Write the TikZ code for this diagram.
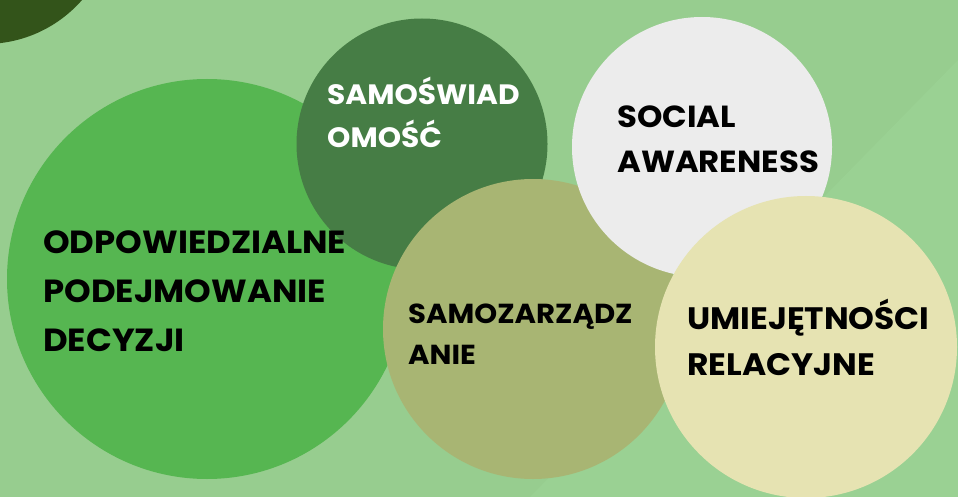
\documentclass[tikz,border=0pt]{standalone}
\usepackage{fontspec}
\setmainfont{Poppins}[FakeStretch=1.06]
\usetikzlibrary{positioning}

\definecolor{meadow}{HTML}{97CD8F}
\definecolor{meadowlight}{HTML}{9AD193}
\definecolor{forest}{HTML}{33541A}
\definecolor{leaf}{HTML}{56B651}
\definecolor{moss}{HTML}{467D45}
\definecolor{fog}{HTML}{ECECEC}
\definecolor{olive}{HTML}{A8B573}
\definecolor{cream}{HTML}{E6E3B2}

\begin{document}
\begin{tikzpicture}[
         x=1pt, y=-1pt,
         bubble/.style={circle, inner sep=0pt, minimum size=#1},
         caption/.style={anchor=base west, align=left, inner sep=0pt, text=black}
      ]
         % Background and the faint diagonal band
         \useasboundingbox (0,0) rectangle (958,497);
         \fill[meadow] (0,0) rectangle (958,497);
         \fill[meadowlight] (958,60) -- (958,497) -- (530,497) -- cycle;

         % Circles, back to front
         \node[bubble=258pt, fill=forest] (corner) at (-15,-85) {};
         \node[bubble=400pt, fill=leaf] (decide) at (207,279) {};
         \node[bubble=251pt, fill=moss] (self) at (422,144) {};
         \node[bubble=300pt, fill=olive] (manage) at (533,329) {};
         \node[bubble=260pt, fill=fog] (social) at (702,147) {};
         \node[bubble=302pt, fill=cream] (relate) at (806,347) {};

         % Labels (anchored at the baseline of the last line)
         \node[caption, font=\fontsize{32}{49}\selectfont\bfseries] (decideText) at (43,351) {ODPOWIEDZIALNE\\PODEJMOWANIE\\DECYZJI};
         \node[caption, text=white, font=\fontsize{28}{43}\selectfont\bfseries] (selfText) at (327,148) {SAMOŚWIAD\\OMOŚĆ};
         \node[caption, font=\fontsize{30.5}{45}\selectfont\bfseries] (socialText) at (617,173) {SOCIAL\\AWARENESS};
         \node[caption, font=\fontsize{27.5}{41}\selectfont\bfseries] (manageText) at (408,364) {SAMOZARZĄDZ\\ANIE};
         \node[caption, font=\fontsize{31}{46}\selectfont\bfseries] (relateText) at (687,375) {UMIEJĘTNOŚCI\\RELACYJNE};
      \end{tikzpicture}
\end{document}
